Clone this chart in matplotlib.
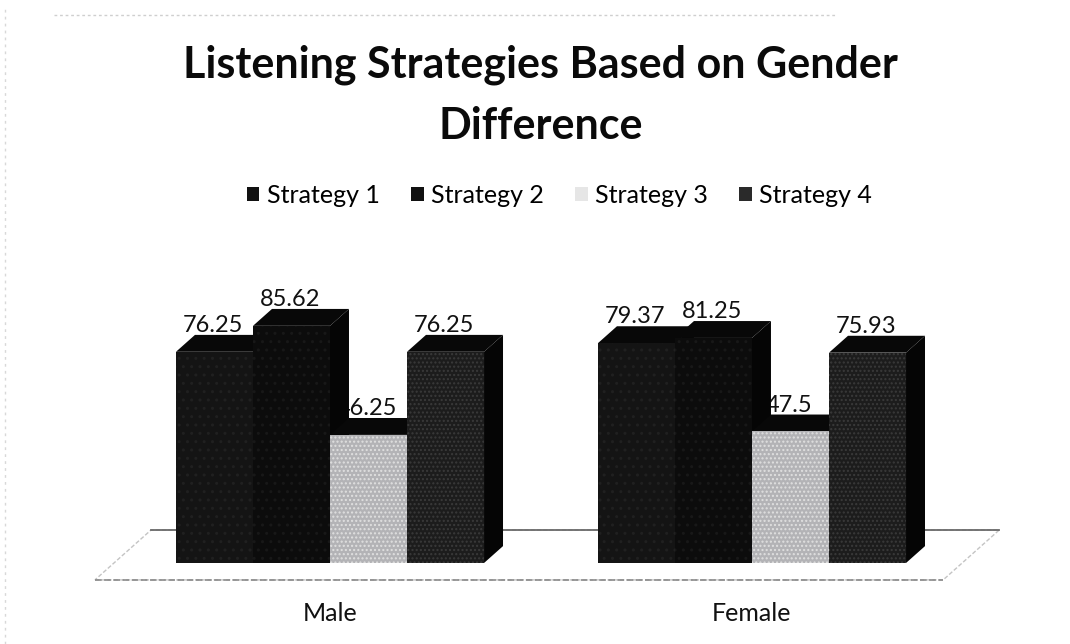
import matplotlib.pyplot as plt
from matplotlib.patches import Rectangle, Polygon, Patch
from matplotlib.lines import Line2D

groups = ["Male", "Female"]
strategies = ["Strategy 1", "Strategy 2", "Strategy 3", "Strategy 4"]
male = [76.25, 85.62, 46.25, 76.25]
female = [79.37, 81.25, 47.5, 75.93]
values = [male, female]

front_colors = ["#141414", "#0c0c0c", "#b3b3b6", "#1c1c1c"]
hatch_colors = ["#202020", "#181818", "#e0e0e0", "#3a3a3a"]
hatches = ["..", "..", "....", "...."]

BAR_W = 0.1825
DX, DY = 0.045, 6.1          # fake depth of each bar
FLOOR_FRONT, FLOOR_BACK = -6.1, 11.9
FONT = "Lato"

plt.rcParams["font.family"] = [FONT, "DejaVu Sans"]

fig = plt.figure(figsize=(10.7, 6.44), dpi=100)
ax = fig.add_axes([0, 0, 1, 1])
ax.set_xlim(-0.782, 1.7536)
ax.set_ylim(-29.24, 203.25)
ax.axis("off")

# floor of the 3d chart
fx0, fx1 = -0.557, 1.453
fdx = DX * (FLOOR_BACK - FLOOR_FRONT) / DY
ax.add_patch(Polygon([(fx0, FLOOR_FRONT), (fx1, FLOOR_FRONT),
                      (fx1 + fdx, FLOOR_BACK), (fx0 + fdx, FLOOR_BACK)],
                     closed=True, facecolor="white", edgecolor="#c4c4c4",
                     lw=1, linestyle=(0, (3, 1.5)), zorder=0.2))
ax.plot([fx0, fx1], [FLOOR_FRONT, FLOOR_FRONT], color="#8a8a8a", lw=1.2,
        linestyle=(0, (4, 1.5)), zorder=0.25)
ax.plot([fx0 + fdx, fx1 + fdx], [FLOOR_BACK, FLOOR_BACK], color="#6a6a6a",
        lw=1.3, zorder=0.3)

z = 1
for gi, vals in enumerate(values):
    for si, v in enumerate(vals):
        x0 = gi + (si - 2) * BAR_W
        x1 = x0 + BAR_W
        side = Polygon([(x1, 0), (x1 + DX, DY), (x1 + DX, v + DY), (x1, v)],
                       closed=True, facecolor="#050505", edgecolor="none", zorder=z)
        top = Polygon([(x0, v), (x1, v), (x1 + DX, v + DY), (x0 + DX, v + DY)],
                      closed=True, facecolor="#080808", edgecolor="none", zorder=z)
        front = Rectangle((x0, 0), BAR_W, v, facecolor=front_colors[si],
                          edgecolor=hatch_colors[si], lw=0, hatch=hatches[si],
                          zorder=z + 0.1)
        ax.add_patch(side)
        ax.add_patch(top)
        ax.add_patch(front)
        # label sits behind the neighbouring bar, like in the original
        ax.text(x0 + BAR_W / 2 - 0.004, v + DY + 1.0, f"{v:g}", ha="center",
                va="baseline", fontsize=17, color="#111111", zorder=z - 1.5)
        z += 1

for gi, g in enumerate(groups):
    ax.text(gi, -18.3, g, ha="center", va="center", fontsize=18, color="#111111")

fig.text(0.505, 0.900, "Listening Strategies Based on Gender", ha="center",
         va="center", fontsize=31, fontweight="bold", color="#0a0a0a")
fig.text(0.505, 0.805, "Difference", ha="center", va="center", fontsize=31,
         fontweight="bold", color="#0a0a0a")

legend_colors = ["#111111", "#111111", "#e6e6e6", "#2a2a2a"]
handles = [Patch(facecolor=c, edgecolor="none") for c in legend_colors]
fig.legend(handles, strategies, loc="center", bbox_to_anchor=(0.523, 0.697),
           ncol=4, frameon=False, fontsize=18, handlelength=0.5,
           handleheight=0.5, handletextpad=0.3, columnspacing=1.25)

# faint frame of the scanned chart area
fig.add_artist(Line2D([0.05, 0.78], [0.977, 0.977], color="#cfcfcf", lw=1,
                      linestyle=(0, (2, 2))))
fig.add_artist(Line2D([0.005, 0.005], [0.0, 0.99], color="#d8d8d8", lw=1,
                      linestyle=(0, (2, 3))))

fig.savefig("out.png", dpi=100, facecolor="white")
